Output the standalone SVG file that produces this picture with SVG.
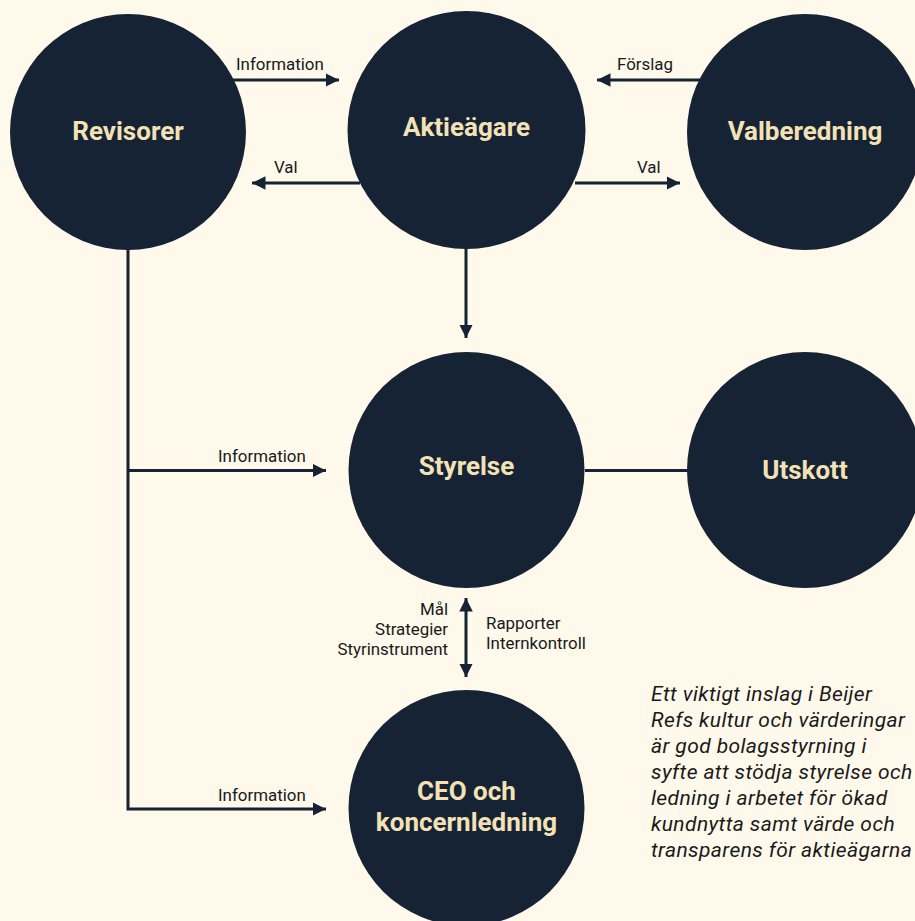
<svg xmlns="http://www.w3.org/2000/svg" width="915" height="921" viewBox="0 0 915 921">
<defs>
<style>
.node{fill:#152335}
.nl{font-family:Roboto,"Liberation Sans",sans-serif;font-weight:bold;font-size:26px;fill:#f3e2b5;text-anchor:middle}
.lb{font-family:Roboto,"Liberation Sans",sans-serif;font-size:16.9px;fill:#1a1a1a}
.ln{stroke:#152335;stroke-width:3;fill:none}
.it{font-family:Roboto,"Liberation Sans",sans-serif;font-style:italic;font-size:21px;letter-spacing:0.4px;fill:#1a1a1a}
</style>
<marker id="ah" viewBox="0 0 10 10" refX="10" refY="5" markerWidth="4.5" markerHeight="4.5" markerUnits="strokeWidth" orient="auto-start-reverse">
<path d="M0,0 L10,5 L0,10 z" fill="#152335"/>
</marker>
</defs>
<rect width="915" height="921" fill="#fef9eb"/>
<g id="connectors">
<line class="ln" x1="233" y1="80" x2="339" y2="80" marker-end="url(#ah)"/>
<text class="lb" x="236" y="70">Information</text>
<line class="ln" x1="360" y1="183" x2="252" y2="183" marker-end="url(#ah)"/>
<text class="lb" x="274" y="173">Val</text>
<line class="ln" x1="700" y1="80" x2="597" y2="80" marker-end="url(#ah)"/>
<text class="lb" x="617" y="70">Förslag</text>
<line class="ln" x1="575" y1="183" x2="680" y2="183" marker-end="url(#ah)"/>
<text class="lb" x="637" y="173">Val</text>
<line class="ln" x1="466" y1="248" x2="466" y2="338" marker-end="url(#ah)"/>
<path class="ln" d="M128,248 V809 H326" marker-end="url(#ah)"/>
<line class="ln" x1="128" y1="470.5" x2="326" y2="470.5" marker-end="url(#ah)"/>
<text class="lb" x="218" y="462">Information</text>
<text class="lb" x="218" y="801">Information</text>
<line class="ln" x1="585" y1="470.5" x2="688" y2="470.5"/>
<line class="ln" x1="466" y1="598" x2="466" y2="677" marker-start="url(#ah)" marker-end="url(#ah)"/>
<text class="lb" text-anchor="end" x="448" y="615">Mål</text>
<text class="lb" text-anchor="end" x="448" y="635">Strategier</text>
<text class="lb" text-anchor="end" x="448" y="655">Styrinstrument</text>
<text class="lb" x="486" y="629">Rapporter</text>
<text class="lb" x="486" y="649">Internkontroll</text>
</g>
<g id="revisorer"><circle class="node" cx="128" cy="132" r="118"/><text class="nl" x="128" y="140">Revisorer</text></g>
<g id="aktieagare"><circle class="node" cx="466.5" cy="130" r="119"/><text class="nl" x="466.5" y="136">Aktieägare</text></g>
<g id="valberedning"><circle class="node" cx="805" cy="132" r="118"/><text class="nl" x="805" y="140">Valberedning</text></g>
<g id="styrelse"><circle class="node" cx="466.5" cy="470" r="118"/><text class="nl" x="466.5" y="475">Styrelse</text></g>
<g id="utskott"><circle class="node" cx="805" cy="470" r="118"/><text class="nl" x="805" y="479">Utskott</text></g>
<g id="ceo"><circle class="node" cx="466.5" cy="808" r="118"/><text class="nl" x="466.5" y="800">CEO och</text><text class="nl" x="466.5" y="831">koncernledning</text></g>
<g id="note">
<text class="it" x="651" y="701">Ett viktigt inslag i Beijer</text>
<text class="it" x="651" y="727">Refs kultur och värderingar</text>
<text class="it" x="651" y="753">är god bolagsstyrning i</text>
<text class="it" x="651" y="779">syfte att stödja styrelse och</text>
<text class="it" x="651" y="805">ledning i arbetet för ökad</text>
<text class="it" x="651" y="831">kundnytta samt värde och</text>
<text class="it" x="651" y="857">transparens för aktieägarna</text>
</g>
</svg>
